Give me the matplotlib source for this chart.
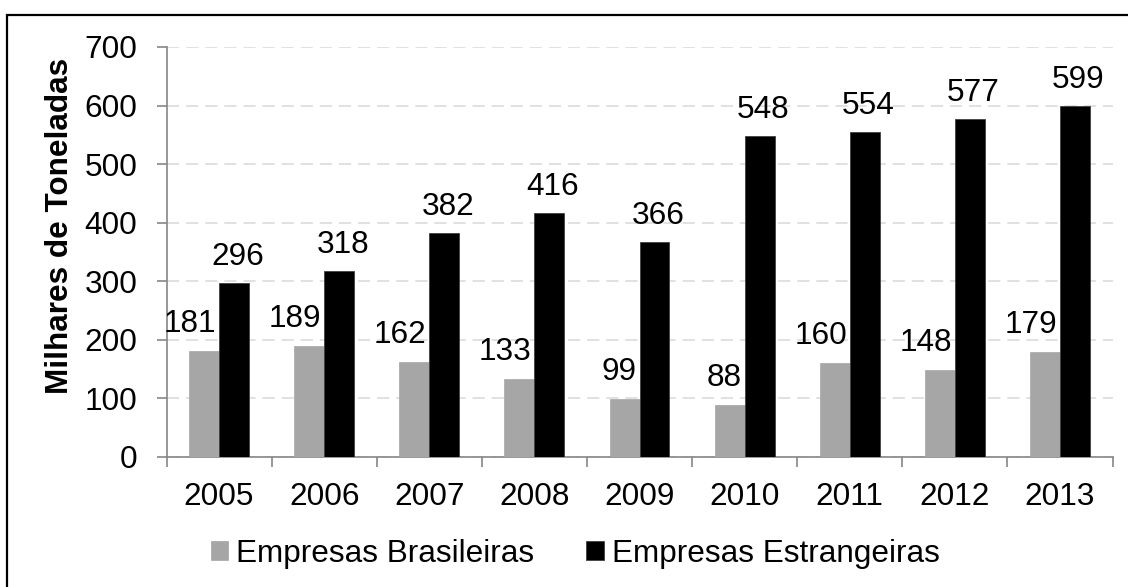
import matplotlib
matplotlib.use("Agg")
import matplotlib.pyplot as plt
from matplotlib.patches import Rectangle
import numpy as np

years = ["2005", "2006", "2007", "2008", "2009", "2010", "2011", "2012", "2013"]
brasileiras = [181, 189, 162, 133, 99, 88, 160, 148, 179]
estrangeiras = [296, 318, 382, 416, 366, 548, 554, 577, 599]
series_names = ["Empresas Brasileiras", "Empresas Estrangeiras"]
y_ticks = [0, 100, 200, 300, 400, 500, 600, 700]
y_label = "Milhares de Toneladas"

plt.rcParams['font.family'] = ['Liberation Sans', 'DejaVu Sans']
FS = 22.7

fig = plt.figure(figsize=(11.28, 5.87), dpi=100)
ax = fig.add_axes([166.5/1128, 1-456.7/587, (1112.5-166.5)/1128, (456.7-47)/587])

x = np.arange(len(years))
w = 0.285
gray = "#a6a6a6"
b1 = ax.bar(x - w/2, brasileiras, w, color=gray, edgecolor=gray, linewidth=0.5, zorder=3,
            label=series_names[0])
b2 = ax.bar(x + w/2, estrangeiras, w, color="black", edgecolor="#404040", linewidth=0.6, zorder=3,
            label=series_names[1])

for xi, v in zip(x, brasileiras):
    ax.annotate(str(v), (xi, v), xytext=(-2, 13.5), textcoords="offset points",
                ha="right", va="baseline", fontsize=FS, zorder=4)
for xi, v in zip(x, estrangeiras):
    ax.annotate(str(v), (xi + w/2, v), xytext=(2.5, 13), textcoords="offset points",
                ha="center", va="baseline", fontsize=FS, zorder=4)

ax.set_xlim(-0.5, len(years) - 0.5)
ax.set_ylim(0, 700)
ax.set_yticks(y_ticks)
ax.set_yticklabels([str(t) for t in y_ticks], fontsize=FS)
ax.set_xticks(x)
ax.set_xticklabels(years, fontsize=FS)
ax.set_xticks(np.arange(len(years) + 1) - 0.5, minor=True)
ax.tick_params(axis='x', which='major', length=0, pad=18)
ax.tick_params(axis='x', which='minor', length=7, width=1.2, color="#868686")
ax.tick_params(axis='y', length=7, width=1.2, color="#868686", pad=14)

for s in ["top", "right"]:
    ax.spines[s].set_visible(False)
for s in ["left", "bottom"]:
    ax.spines[s].set_color("#868686")
    ax.spines[s].set_linewidth(1.2)

ax.yaxis.grid(True, color="#d9d9d9", linestyle=(0, (8, 4.5)), linewidth=1.1, zorder=0)
ax.set_axisbelow(True)

fig.text(60/1128, 1-226/587, y_label, rotation=90, fontsize=FS, fontweight="bold",
         ha="center", va="center")

fig.legend(handles=[b1, b2], labels=series_names, loc="center", bbox_to_anchor=(0.51, 1-554/587),
           ncol=2, frameon=False, fontsize=FS, handlelength=0.55, handleheight=0.55,
           handletextpad=0.25, columnspacing=1.65, borderpad=0, borderaxespad=0)

fig.patches.append(Rectangle((7/1128, -0.2), 1.2, 0.2 + 1-15/587, transform=fig.transFigure,
                             fill=False, edgecolor="black", linewidth=1.6))

fig.savefig("out.png", dpi=100)
